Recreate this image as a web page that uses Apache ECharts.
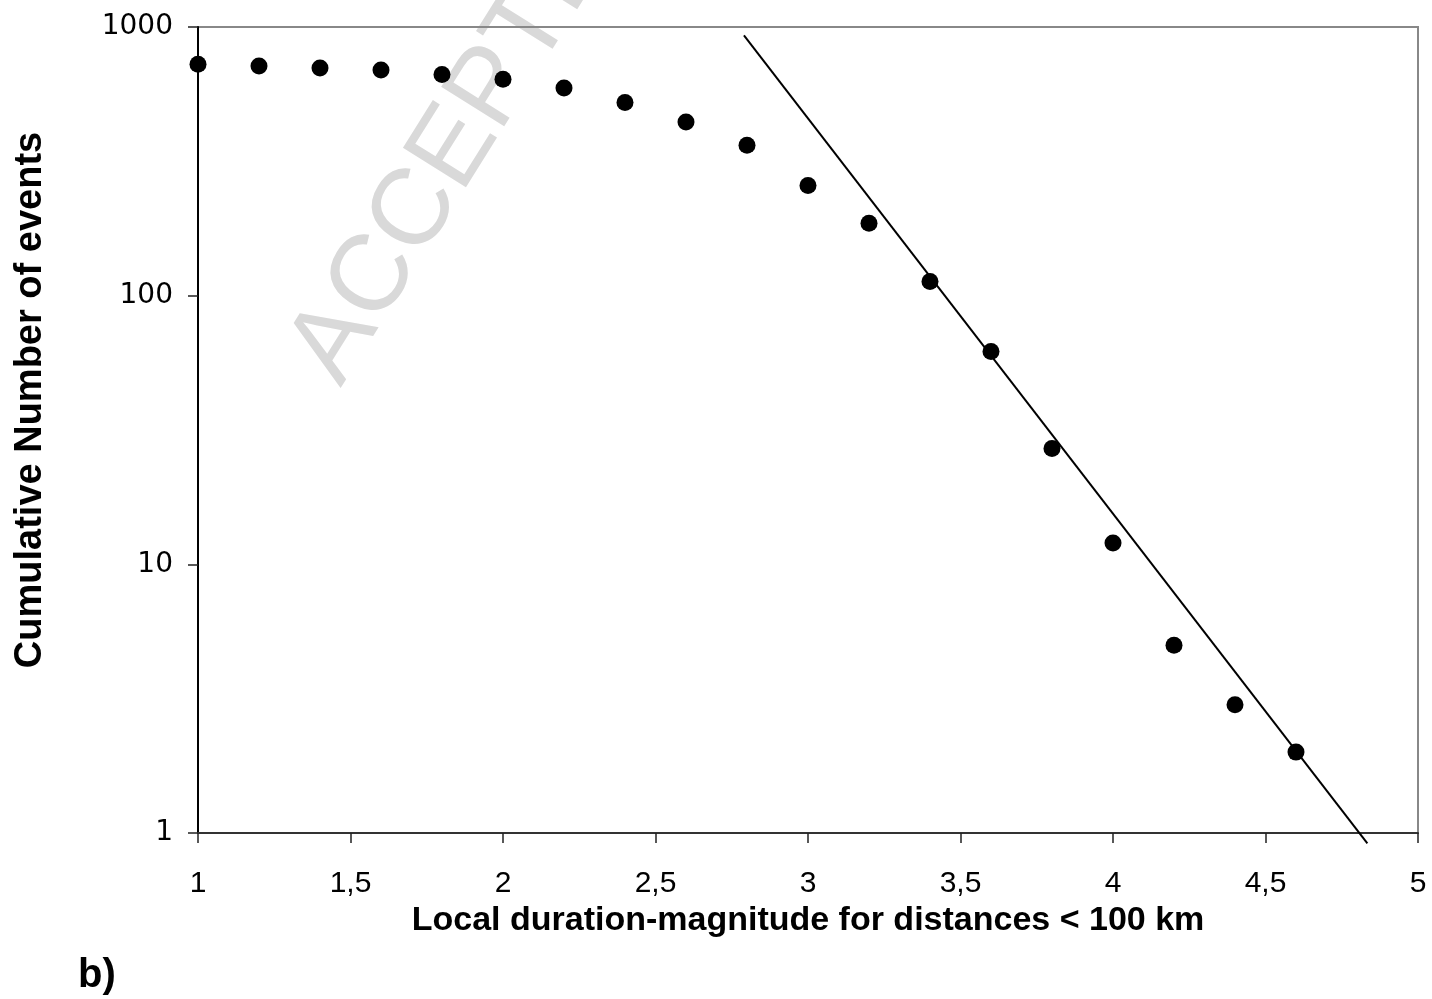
<!DOCTYPE html>
<html>
<head>
<meta charset="utf-8">
<script src="https://cdn.jsdelivr.net/npm/echarts@6/dist/echarts.min.js"></script>
<style>
html,body{margin:0;padding:0;background:#fff;}
#chart{width:1432px;height:999px;}
</style>
</head>
<body>
<div id="chart"></div>
<script>
// Data
const magnitudes = [1.0, 1.2, 1.4, 1.6, 1.8, 2.0, 2.2, 2.4, 2.6, 2.8, 3.0, 3.2, 3.4, 3.6, 3.8, 4.0, 4.2, 4.4, 4.6];
const cumulativeCounts = [726, 716, 704, 692, 665, 639, 593, 524, 443, 363, 257, 186, 113, 62, 27, 12, 5, 3, 2];
const fitLineX = [2.79, 4.834];
const fitLineY = [931, 0.915];
const xTickValues = [1, 1.5, 2, 2.5, 3, 3.5, 4, 4.5, 5];
const yTickValues = [1, 10, 100, 1000];
const xTitle = 'Local duration-magnitude for distances < 100 km';
const yTitle = 'Cumulative Number of events';
const panelLabel = 'b)';
const watermark = 'ACCEPTED MANUSCRIPT';

const pointData = magnitudes.map((m, i) => [m, cumulativeCounts[i]]);
const lineData = fitLineX.map((x, i) => [x, fitLineY[i]]);

const chart = echarts.init(document.getElementById('chart'), null, {renderer: 'canvas'});
const FONT = '"Liberation Sans", Arial, sans-serif';
const ang = 58 * Math.PI / 180;

chart.setOption({
  animation: false,
  backgroundColor: '#ffffff',
  grid: {left: 198, top: 27, right: 14, bottom: 166, show: true, borderColor: '#888888', borderWidth: 2, backgroundColor: 'transparent'},
  graphic: [
    {
      type: 'text', z: -10, zlevel: 0,
      x: 361, y: 401, rotation: ang,
      style: {text: watermark, font: '108px ' + FONT, fill: '#d9d9d9', textAlign: 'left', textVerticalAlign: 'bottom'}
    },
    {
      type: 'text', left: 78, top: 956,
      style: {text: panelLabel, font: 'bold 40px ' + FONT, fill: '#000'}
    }
  ],
  xAxis: {
    type: 'value', min: 1, max: 5, interval: 0.5,
    name: xTitle, nameLocation: 'middle', nameGap: 71,
    nameTextStyle: {fontFamily: FONT, fontWeight: 'bold', fontSize: 34, color: '#000'},
    axisLine: {show: true, onZero: false, lineStyle: {color: '#333', width: 2}},
    axisTick: {show: true, length: 10, inside: false, lineStyle: {color: '#222', width: 1.5}},
    axisLabel: {margin: 36, fontFamily: FONT, fontSize: 30, color: '#000',
      formatter: v => String(Math.round(v * 10) / 10).replace('.', ',')},
    splitLine: {show: false}
  },
  yAxis: {
    type: 'log', logBase: 10, min: 1, max: 1000,
    name: yTitle, nameLocation: 'middle', nameGap: 148, nameRotate: 90,
    nameTextStyle: {fontFamily: FONT, fontWeight: 'bold', fontSize: 38, color: '#000', padding: [0, 0, 0, 60]},
    axisLine: {show: true, lineStyle: {color: '#000', width: 2}},
    axisTick: {show: true, length: 10, inside: false, lineStyle: {color: '#222', width: 1.5}},
    axisLabel: {margin: 25, fontFamily: '"DejaVu Sans", sans-serif', fontSize: 28, color: '#000',
      formatter: v => String(Math.round(v))},
    splitLine: {show: false},
    minorTick: {show: false}
  },
  series: [
    {
      type: 'line', data: lineData, symbol: 'none', clip: false, z: 2,
      lineStyle: {color: '#000', width: 2}
    },
    {
      type: 'scatter', data: pointData, symbol: 'circle', symbolSize: 17, z: 3, clip: false,
      itemStyle: {color: '#000', opacity: 1}
    }
  ]
});
</script>
</body>
</html>
